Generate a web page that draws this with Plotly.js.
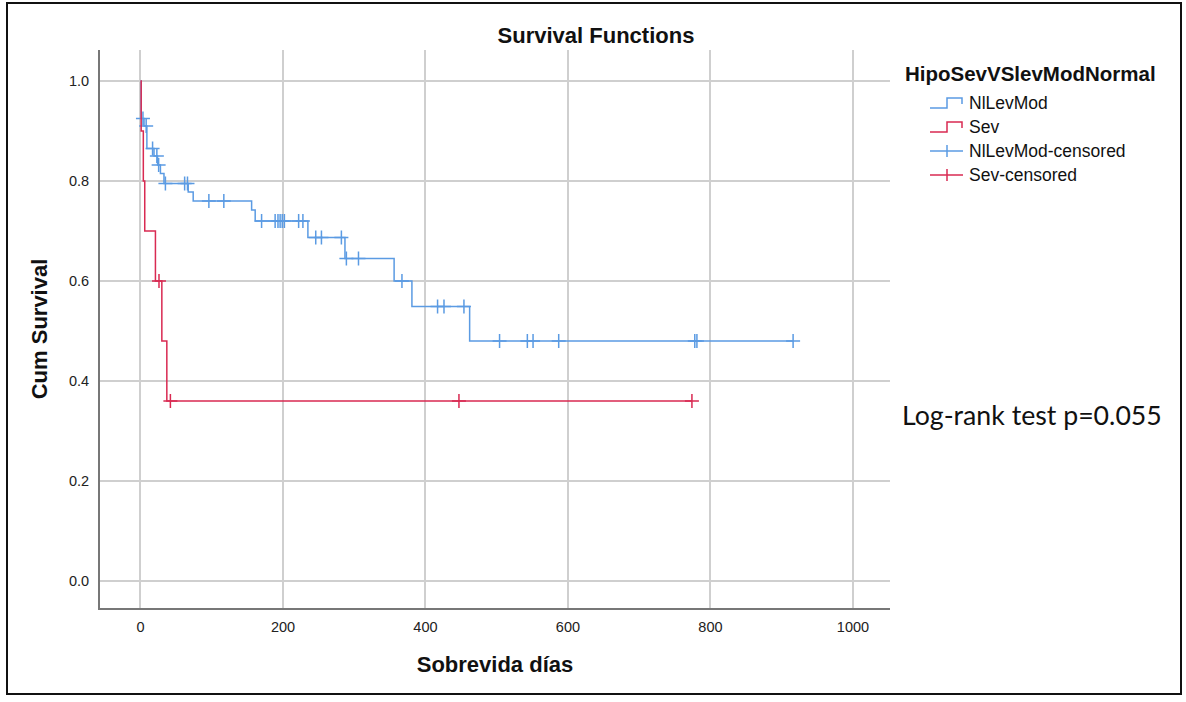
<!DOCTYPE html>
<html>
<head>
<meta charset="utf-8">
<script src="https://cdn.plot.ly/plotly-3.0.1.min.js"></script>
<style>
  html, body { margin: 0; padding: 0; background: #fff; }
  #wrap { position: relative; width: 1186px; height: 702px; }
  #chart { width: 1186px; height: 702px; }
  #frame { position: absolute; left: 6px; top: 2px; width: 1172px; height: 689px; border: 2px solid #111; pointer-events: none; }
</style>
</head>
<body>
<div id="wrap"><div id="chart"></div><div id="frame"></div></div>
<script>
// ---- Data ----
const groupNames = ["NlLevMod", "Sev"];
const legendTitle = "HipoSevVSlevModNormal";

// NlLevMod step curve
const nlTimes = [0, 1, 5, 9, 19, 24, 28, 33, 67, 74, 156, 161, 235, 287, 356, 381, 462, 916];
const nlSurv  = [1.0, 0.925, 0.91, 0.865, 0.85, 0.832, 0.815, 0.795, 0.778, 0.76, 0.742, 0.72, 0.687, 0.645, 0.6, 0.549, 0.48, 0.48];
// NlLevMod censored
const nlCensT = [3.5, 8, 17, 23, 25.5, 35, 62, 66, 96, 117, 170, 189, 193, 196, 199, 202, 222, 228, 246, 254, 282, 289, 306, 367, 417, 426, 454, 504, 543, 551, 587, 778, 781, 916];
const nlCensS = [0.925, 0.91, 0.865, 0.85, 0.832, 0.795, 0.795, 0.795, 0.76, 0.76, 0.72, 0.72, 0.72, 0.72, 0.72, 0.72, 0.72, 0.72, 0.687, 0.687, 0.687, 0.645, 0.645, 0.6, 0.549, 0.549, 0.549, 0.48, 0.48, 0.48, 0.48, 0.48, 0.48, 0.48];

// Sev step curve
const sevTimes = [0, 1, 4, 6, 21, 30, 37, 774];
const sevSurv  = [1.0, 0.9, 0.8, 0.7, 0.6, 0.48, 0.36, 0.36];
// Sev censored
const sevCensT = [26, 42, 447, 774];
const sevCensS = [0.6, 0.36, 0.36, 0.36];

const xTicks = [0, 200, 400, 600, 800, 1000];
const yTicks = [0.0, 0.2, 0.4, 0.6, 0.8, 1.0];
const yTickText = ["0.0", "0.2", "0.4", "0.6", "0.8", "1.0"];

const testText = "Log-rank test p=0.055";

// ---- Styles ----
const BLUE = "#5b9be3";
const RED = "#d92a52";
const FONT = "Liberation Sans, Arial, sans-serif";

// plot area in pixels
const L = 100, R = 890, T = 50, B = 608;
const PX = px => (px - L) / (R - L);
const PY = py => (B - py) / (B - T);

const traces = [
  { x: nlTimes, y: nlSurv, mode: "lines", line: { shape: "hv", color: BLUE, width: 1.5 }, name: groupNames[0], showlegend: false },
  { x: nlCensT, y: nlCensS, mode: "markers", marker: { symbol: "cross-thin", size: 10, line: { color: BLUE, width: 1.5 } }, name: groupNames[0] + "-censored", showlegend: false },
  { x: sevTimes, y: sevSurv, mode: "lines", line: { shape: "hv", color: RED, width: 1.5 }, name: groupNames[1], showlegend: false },
  { x: sevCensT, y: sevCensS, mode: "markers", marker: { symbol: "cross-thin", size: 10, line: { color: RED, width: 1.5 } }, name: groupNames[1] + "-censored", showlegend: false }
];

// custom legend
const legRows = [103, 127, 151, 175];
const legLabels = [groupNames[0], groupNames[1], groupNames[0] + "-censored", groupNames[1] + "-censored"];
const legColors = [BLUE, RED, BLUE, RED];
const shapes = [];
const annotations = [];
legRows.forEach((ry, i) => {
  const c = legColors[i];
  if (i < 2) {
    const p = `M ${PX(930)} ${PY(ry + 5)} L ${PX(947)} ${PY(ry + 5)} L ${PX(947)} ${PY(ry - 5)} L ${PX(962)} ${PY(ry - 5)} L ${PX(962)} ${PY(ry + 1)}`;
    shapes.push({ type: "path", xref: "paper", yref: "paper", path: p, line: { color: c, width: 1.5 } });
  } else {
    shapes.push({ type: "line", xref: "paper", yref: "paper", x0: PX(930), x1: PX(963), y0: PY(ry), y1: PY(ry), line: { color: c, width: 1.5 } });
    shapes.push({ type: "line", xref: "paper", yref: "paper", x0: PX(947), x1: PX(947), y0: PY(ry - 6), y1: PY(ry + 6), line: { color: c, width: 1.5 } });
  }
  annotations.push({ xref: "paper", yref: "paper", x: PX(967), y: PY(ry), xanchor: "left", yanchor: "middle", text: legLabels[i], showarrow: false, font: { family: FONT, size: 17.5, color: "#111" } });
});
annotations.push({ xref: "paper", yref: "paper", x: PX(903), y: PY(73), xanchor: "left", yanchor: "middle", text: "<b>" + legendTitle + "</b>", showarrow: false, font: { family: FONT, size: 20.5, color: "#111" } });
annotations.push({ xref: "paper", yref: "paper", x: PX(900), y: PY(415), xanchor: "left", yanchor: "middle", text: testText, showarrow: false, font: { family: "Lato, Liberation Sans, sans-serif", size: 26.7, color: "#111" } });

const layout = {
  width: 1186, height: 702,
  margin: { l: L, r: 1186 - R, t: T, b: 702 - B, pad: 0 },
  paper_bgcolor: "#fff", plot_bgcolor: "#fff",
  title: { text: "<b>Survival Functions</b>", x: 596 / 1186, xref: "container", xanchor: "center", y: 1 - 35 / 702, yref: "container", yanchor: "middle", font: { family: FONT, size: 22, color: "#111" } },
  xaxis: {
    range: [-56.8, 1052], tickvals: xTicks, ticktext: xTicks.map(String), ticks: "", ticklabelstandoff: 5,
    showgrid: true, gridcolor: "#cfcfcf", gridwidth: 2, zeroline: false,
    showline: true, linecolor: "#777", linewidth: 2,
    tickfont: { family: FONT, size: 14.5, color: "#222" },
    title: { text: "<b>Sobrevida días</b>", font: { family: FONT, size: 22, color: "#111" }, standoff: 22 }
  },
  yaxis: {
    range: [-0.054, 1.062], tickvals: yTicks, ticktext: yTickText, ticks: "", ticklabelstandoff: 6,
    showgrid: true, gridcolor: "#cfcfcf", gridwidth: 2, zeroline: false,
    showline: true, linecolor: "#777", linewidth: 2,
    tickfont: { family: FONT, size: 14.5, color: "#222" },
    title: { text: "<b>Cum Survival</b>", font: { family: FONT, size: 22, color: "#111" }, standoff: 15 }
  },
  shapes: shapes,
  annotations: annotations,
  showlegend: false
};

Plotly.newPlot("chart", traces, layout, { displayModeBar: false, staticPlot: true });
</script>
</body>
</html>
